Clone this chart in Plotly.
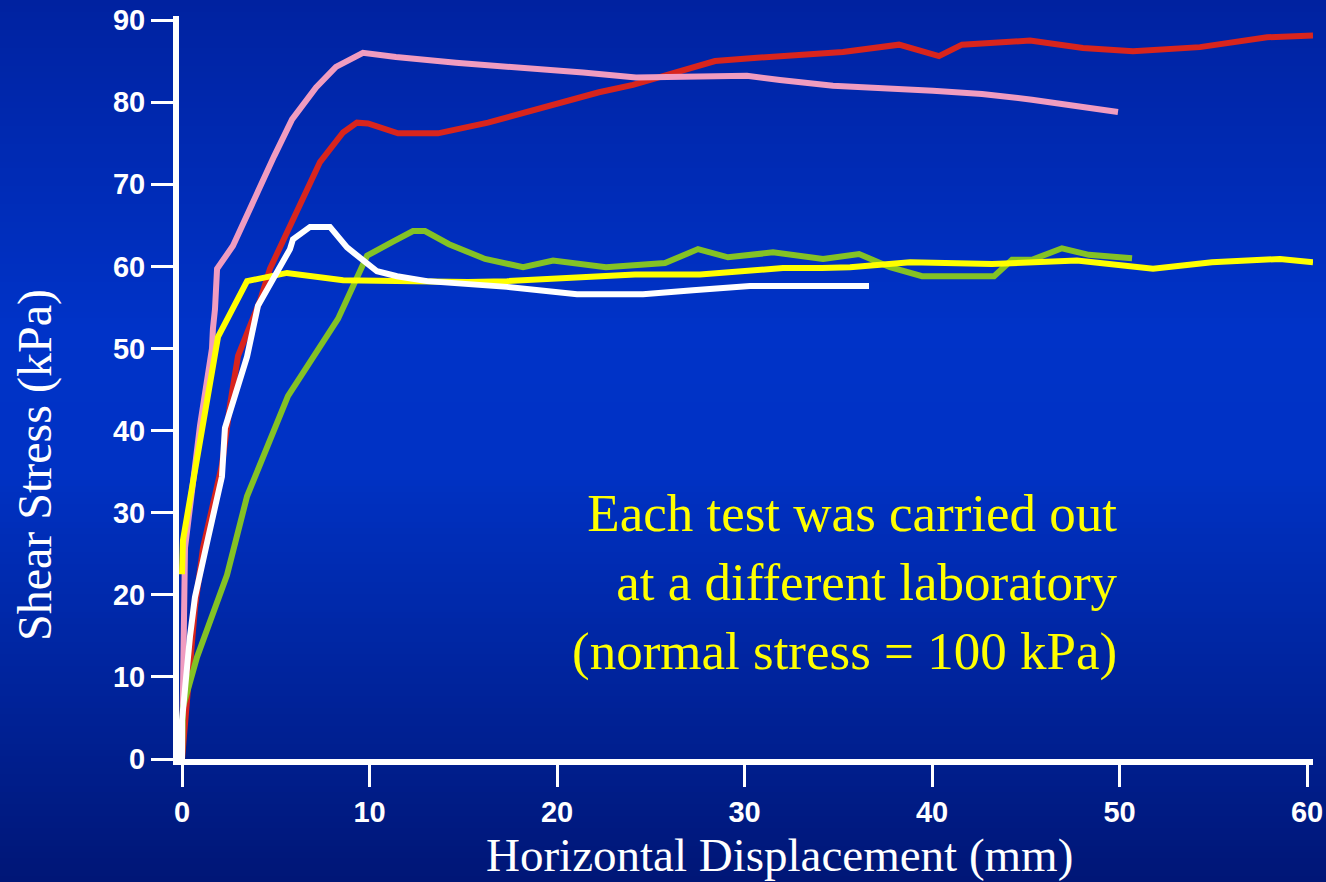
import plotly.graph_objects as go

# Direct shear tests on the same soil, run at five laboratories
# Horizontal displacement (mm) and shear stress (kPa) per test

red_x = [0, 0.32, 0.69, 1.12, 2.13, 2.56, 2.99, 4.16, 4.69, 7.36, 8.59, 9.33, 9.92,
         11.52, 13.65, 16.32, 19.79, 22.24, 24.05, 26.56, 28.43, 30.67, 35.25, 38.24,
         40.37, 41.6, 45.23, 48.05, 50.72, 54.29, 57.87, 60.32]
red_y = [0, 8.7, 18.4, 25.7, 35.8, 43.1, 49.1, 55.8, 59.7, 72.7, 76.3, 77.5, 77.4,
         76.2, 76.2, 77.5, 79.6, 81.2, 82.1, 83.8, 85.0, 85.4, 86.1, 87.0,
         85.6, 87.0, 87.5, 86.6, 86.2, 86.7, 87.9, 88.1]

pink_x = [0, 0.16, 0.96, 1.6, 1.65, 1.76, 1.87, 2.72, 4.91, 5.87, 7.15, 8.21, 9.65,
          11.41, 14.61, 18.19, 21.39, 24.21, 30.13, 31.89, 34.72, 40.05, 42.67,
          45.33, 48.21, 49.92]
pink_y = [0, 25.7, 40.6, 50.0, 52.4, 54.8, 59.7, 62.5, 73.4, 77.9, 81.8, 84.3, 86.0,
          85.5, 84.8, 84.2, 83.6, 83.0, 83.2, 82.7, 82.0, 81.4, 81.0,
          80.3, 79.3, 78.8]

green_x = [0, 0.05, 0.8, 2.4, 3.47, 5.65, 8.32, 9.65, 9.87, 11.25, 12.32, 12.96,
           14.24, 16.16, 18.19, 19.79, 20.96, 22.61, 25.76, 27.52, 29.12, 31.52,
           34.19, 36.11, 37.76, 39.47, 41.23, 43.31, 44.27, 45.33, 46.93, 48.37, 50.67]
green_y = [0, 6.3, 12.4, 22.4, 32.0, 44.2, 53.6, 60.0, 61.3, 63.0, 64.3, 64.3,
           62.7, 60.9, 59.9, 60.7, 60.3, 59.9, 60.4, 62.1, 61.1, 61.7,
           60.9, 61.5, 59.9, 58.8, 58.8, 58.8, 60.8, 60.8, 62.2, 61.4, 61.0]

yellow_x = [0, 0.05, 0.32, 1.07, 1.92, 3.47, 5.6, 8.59, 13.07, 15.25, 17.33, 20.85,
            24.16, 27.63, 32.05, 34.13, 35.63, 38.83, 43.2, 47.73, 51.79, 54.93,
            58.56, 60.32]
yellow_y = [22.5, 26.6, 30.2, 40.6, 51.4, 58.2, 59.2, 58.3, 58.1, 58.1, 58.2, 58.7,
            59.0, 59.0, 59.8, 59.8, 59.9, 60.5, 60.3, 60.7, 59.7, 60.5,
            60.9, 60.5]

white_x = [0, 0, 0.43, 0.69, 1.39, 2.13, 2.29, 3.47, 4.05, 5.76, 5.92, 6.83, 7.89,
           8.8, 10.4, 11.47, 13.07, 17.33, 21.07, 24.59, 27.25, 30.29, 36.64]
white_y = [0, 4.7, 15.0, 19.7, 26.9, 34.4, 40.3, 49.0, 55.2, 62.1, 63.3, 64.8, 64.8,
           62.3, 59.4, 58.8, 58.2, 57.5, 56.6, 56.6, 57.1, 57.6, 57.6]

x_ticks = [0, 10, 20, 30, 40, 50, 60]
y_ticks = [0, 10, 20, 30, 40, 50, 60, 70, 80, 90]

note_lines = ["Each test was carried out", "at a different laboratory",
              "(normal stress = 100 kPa)"]
x_title = "Horizontal Displacement (mm)"
y_title = "Shear Stress (kPa)"

W, H = 1326, 882
L, R, T, B = 179, 13, 16, 123
PW, PH = W - L - R, H - T - B


def px_x(px):
    return (px - L) / PW


def px_y(py):
    return (H - B - py) / PH


series = [
    (red_x, red_y, "#d8251d"),
    (pink_x, pink_y, "#f09cc0"),
    (green_x, green_y, "#84c225"),
    (yellow_x, yellow_y, "#ffff00"),
    (white_x, white_y, "#ffffff"),
]

fig = go.Figure()
for xs, ys, col in series:
    fig.add_trace(go.Scatter(x=xs, y=ys, mode="lines",
                             line=dict(color=col, width=6),
                             hoverinfo="skip", showlegend=False))


# vertical blue gradient behind everything
def grad(py):
    stops = [(0, (0, 34, 160)), (330, (0, 51, 200)), (470, (0, 50, 196)), (882, (0, 22, 118))]
    for (a, ca), (b, cb) in zip(stops, stops[1:]):
        if a <= py <= b:
            t = (py - a) / (b - a)
            return "rgb(%d,%d,%d)" % tuple(round(ca[i] + (cb[i] - ca[i]) * t) for i in range(3))
    return "rgb(0,22,118)"


shapes = []
step = 6
for py in range(-step, H + step, step):
    shapes.append(dict(type="rect", xref="paper", yref="paper", layer="below",
                       x0=px_x(-4), x1=px_x(W + 4),
                       y0=px_y(py + step + 1), y1=px_y(py),
                       fillcolor=grad(min(max(py + step / 2, 0), H)), line=dict(width=0)))

annotations = [
    dict(text="<br>".join(note_lines), xref="x", yref="paper",
         x=50.0, y=px_y(582), xanchor="right", yanchor="middle", align="right",
         showarrow=False,
         font=dict(family="Liberation Serif", size=53, color="#ffff00")),
    dict(text=x_title, xref="paper", yref="paper", x=px_x(779), y=px_y(855),
         xanchor="center", yanchor="middle", showarrow=False,
         font=dict(family="Liberation Serif", size=47, color="#ffffff")),
    dict(text=y_title, xref="paper", yref="paper", x=px_x(35), y=px_y(465),
         xanchor="center", yanchor="middle", showarrow=False, textangle=-90,
         font=dict(family="Liberation Serif", size=48, color="#ffffff")),
]

tick_font = dict(family="Liberation Sans", size=29, color="#ffffff", weight="bold")

fig.update_layout(
    width=W, height=H,
    margin=dict(l=L, r=R, t=T, b=B, pad=0),
    paper_bgcolor="rgb(0,40,175)",
    plot_bgcolor="rgba(0,0,0,0)",
    shapes=shapes,
    annotations=annotations,
    xaxis=dict(range=[-0.16, 60.32], tickvals=x_ticks, ticktext=[str(v) for v in x_ticks],
               automargin=False, showgrid=False, zeroline=False, showline=True,
               linecolor="#ffffff", linewidth=6, ticks="outside", ticklen=22,
               tickwidth=3, tickcolor="#ffffff", tickfont=tick_font),
    yaxis=dict(range=[0, 90.49], tickvals=y_ticks, ticktext=[str(v) for v in y_ticks],
               automargin=False, showgrid=False, zeroline=False, showline=True,
               linecolor="#ffffff", linewidth=6, ticks="outside", ticklen=22,
               tickwidth=3, tickcolor="#ffffff", tickfont=tick_font),
)

fig.write_html("out.html")
